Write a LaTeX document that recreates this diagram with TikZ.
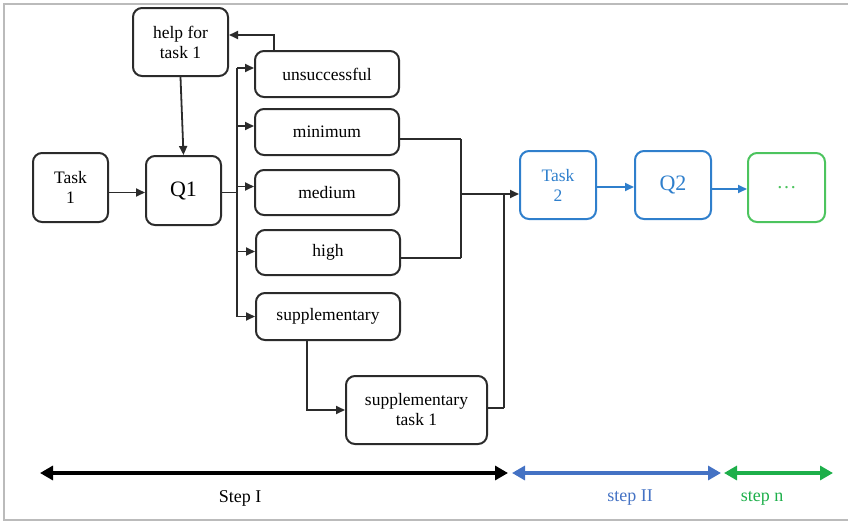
\documentclass[tikz,border=0pt]{standalone}
\usepackage{fontspec}
\setmainfont{Liberation Serif}
\usetikzlibrary{arrows.meta,calc}
\definecolor{boxgray}{HTML}{2B2B2B}
\definecolor{tblue}{HTML}{2F7FCC}
\definecolor{sblue}{HTML}{4472C4}
\definecolor{tgreen}{HTML}{4CC45E}
\definecolor{sgreen}{HTML}{1DAF4A}
\definecolor{framegray}{HTML}{BBBBBB}
\begin{document}
\begin{tikzpicture}[x=1pt,y=-1pt,
  bx/.style={draw=boxgray,line width=2pt,rounded corners=9pt,inner sep=0pt,align=center,
    font=\fontsize{17.5}{20}\selectfont},
  qx/.style={bx,font=\fontsize{22}{24}\selectfont},
  con/.style={draw=boxgray,line width=1.8pt},
  arr/.style={con,-{Triangle[length=9pt,width=8pt]}},
  barr/.style={draw=tblue,line width=1.8pt,-{Triangle[length=9pt,width=8pt]}},
  big/.style={line width=3.2pt,{Triangle[length=13pt,width=14pt]}-{Triangle[length=13pt,width=14pt]}},
  lab/.style={font=\fontsize{18}{20}\selectfont}]
\useasboundingbox (0,0) rectangle (848,525);
\draw[framegray,line width=1.5pt] (4,4) rectangle (860,520);
% nodes
\node[bx,minimum width=95pt,minimum height=68pt] (help) at (180.5,42) {help for\\task 1};
\node[bx,minimum width=144pt,minimum height=46pt] (unsucc) at (327,74) {unsuccessful};
\node[bx,minimum width=144pt,minimum height=46pt] (mini) at (327,132) {minimum};
\node[bx,minimum width=144pt,minimum height=45pt] (medi) at (327,192.5) {medium};
\node[bx,minimum width=144pt,minimum height=45pt] (high) at (328,252.5) {high};
\node[bx,minimum width=144pt,minimum height=47pt] (supp) at (328,316.5) {supplementary};
\node[bx,minimum width=141pt,minimum height=68pt] (supptask) at (416.5,410) {supplementary\\task 1};
\node[bx,minimum width=75pt,minimum height=69pt] (task1) at (70.5,187.5) {Task\\1};
\node[qx,minimum width=75pt,minimum height=69pt] (q1) at (183.5,190.5) {Q1};
\node[bx,draw=tblue,text=tblue,minimum width=76pt,minimum height=68pt] (task2) at (558,185) {Task\\2};
\node[qx,draw=tblue,text=tblue,minimum width=76pt,minimum height=68pt] (q2) at (673,185) {Q2};
\node[bx,draw=tgreen,text=tgreen,minimum width=77pt,minimum height=69pt,font=\fontsize{20}{22}\selectfont] (dots) at (786.5,187.5) {\dots};
% coordinates
\coordinate (bustop) at (237,68);
\coordinate (busbot) at (237,316.5);
\coordinate (q1row) at (0,192.5);
\coordinate (mergeTop) at (461,139);
\coordinate (mergeBot) at (461,258);
\coordinate (join) at (504,194);
\coordinate (joinBot) at (504,408);
% connectors
\draw[arr] (help.south) -- (q1.north);
\draw[arr] ([xshift=20pt]unsucc.north west) |- ([yshift=7pt]help.east);
\draw[arr] (task1.east |- q1row) -- (q1.west |- q1row);
\draw[con] (q1.east |- q1row) -- (bustop |- q1row);
\draw[con] (bustop) -- (busbot);
\coordinate (ua) at ($(unsucc.west)+(0,-6)$);
\coordinate (ma) at ($(mini.west)+(0,-6)$);
\coordinate (da) at ($(medi.west)+(0,-6)$);
\coordinate (ha) at ($(high.west)+(0,-1)$);
\draw[arr] (ua -| bustop) -- (ua);
\draw[arr] (ma -| bustop) -- (ma);
\draw[arr] (da -| bustop) -- (da);
\draw[arr] (ha -| bustop) -- (ha);
\draw[arr] (busbot) -- (supp.west);
\draw[con] ($(mini.east)+(0,7)$) -- (mergeTop);
\draw[con] ($(medi.east)+(0,7.5)$) -- ($(medi.east)+(0,7.5)$ -| mergeTop);
\draw[con] ($(high.east)+(0,5.5)$) -- (mergeBot);
\draw[con] (mergeTop) -- (mergeBot);
\draw[arr] (join -| mergeTop) -- (join -| task2.west);
\draw[con] (joinBot) -- (join);
\draw[con] (supptask.east |- joinBot) -- (joinBot);
\draw[arr] ([xshift=52pt]supp.south west) |- (supptask.west);
\draw[barr] ($(task2.east)+(0,2)$) -- ($(q2.west)+(0,2)$);
\draw[barr] ($(q2.east)+(0,4)$) -- ($(dots.west)+(0,1.5)$);
% steps
\coordinate (s0) at (40,473);
\coordinate (s1) at (508,473);
\coordinate (s2) at (512,473);
\coordinate (s3) at (721,473);
\coordinate (s4) at (724,473);
\coordinate (s5) at (833,473);
\draw[big,black] (s0) -- (s1);
\draw[big,sblue] (s2) -- (s3);
\draw[big,sgreen] (s4) -- (s5);
\node[lab] (l1) at (240,498) {Step I};
\node[lab,text=sblue] (l2) at (630,498) {step II};
\node[lab,text=sgreen] (l3) at (762,498) {step n};
\end{tikzpicture}
\end{document}
